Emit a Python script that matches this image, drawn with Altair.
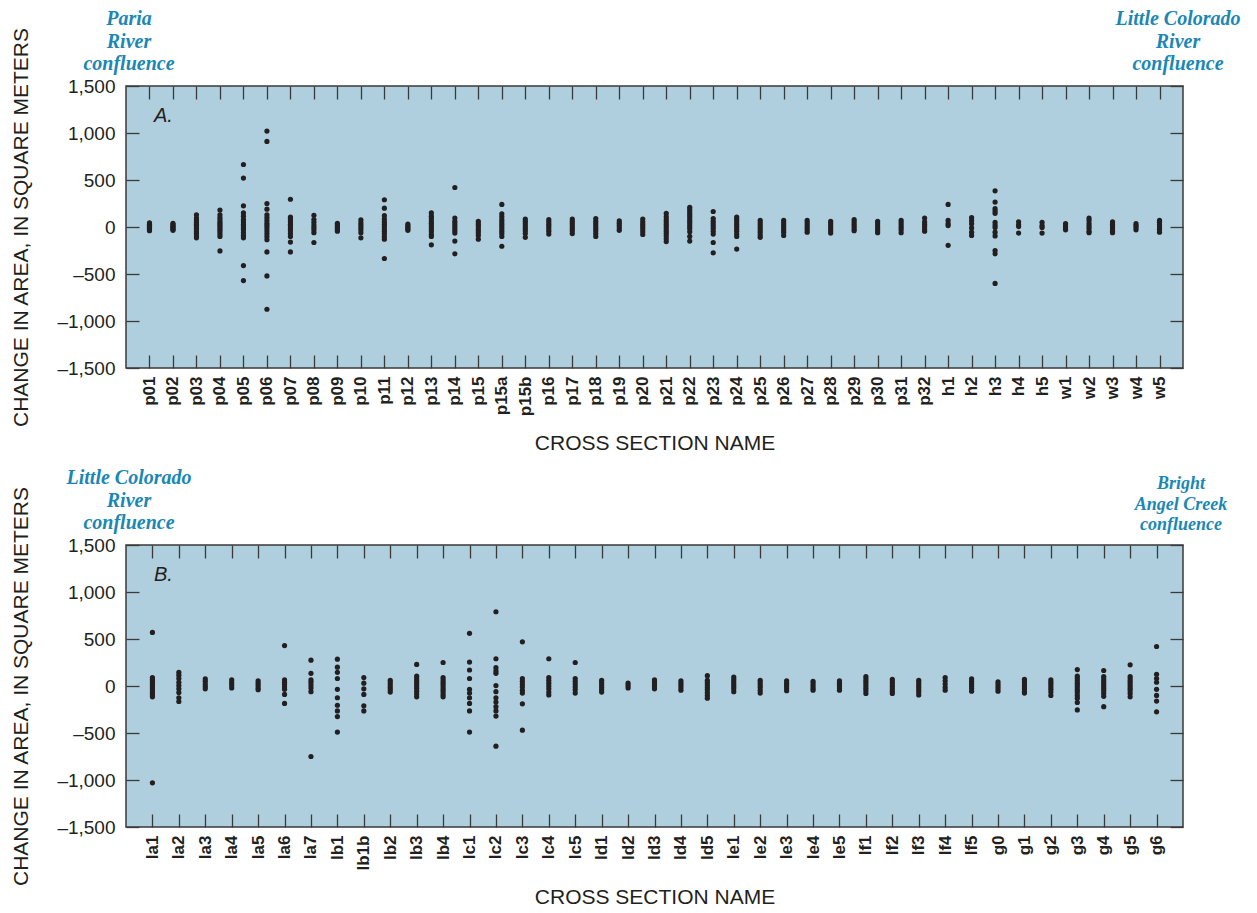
import altair as alt
import pandas as pd

# ---------------- data ----------------
sections_a = ["p01", "p02", "p03", "p04", "p05", "p06", "p07", "p08", "p09", "p10",
              "p11", "p12", "p13", "p14", "p15", "p15a", "p15b", "p16", "p17", "p18",
              "p19", "p20", "p21", "p22", "p23", "p24", "p25", "p26", "p27", "p28",
              "p29", "p30", "p31", "p32", "h1", "h2", "h3", "h4", "h5",
              "w1", "w2", "w3", "w4", "w5"]

values_a = [
    [45, 30, 15, 5, -5, -15, -30, -40],
    [40, 25, 10, 0, -10, -25, -35],
    [130, 95, 70, 50, 30, 15, 0, -15, -30, -50, -70, -95, -115],
    [180, 130, 100, 75, 50, 30, 10, -10, -30, -50, -75, -100, -255],
    [665, 520, 225, 150, 115, 80, 55, 30, 10, -10, -30, -60, -90, -115, -410, -570],
    [1020, 910, 250, 190, 130, 100, 70, 40, 15, -10, -40, -70, -100, -135, -265, -520, -875],
    [295, 105, 80, 55, 30, 10, -15, -40, -70, -100, -160, -265],
    [125, 80, 50, 20, -5, -30, -60, -165],
    [40, 20, 5, -10, -25, -45],
    [75, 45, 20, -5, -30, -60, -115],
    [290, 200, 120, 85, 55, 30, 5, -20, -45, -70, -100, -130, -335],
    [30, 10, -5, -20, -35],
    [150, 115, 90, 65, 40, 20, 0, -25, -50, -80, -100, -190],
    [420, 95, 60, 35, 10, -15, -40, -65, -150, -285],
    [60, 35, 15, -10, -35, -60, -90, -130],
    [240, 140, 110, 80, 55, 30, 5, -20, -45, -70, -100, -205],
    [85, 60, 35, 10, -15, -40, -70, -110],
    [80, 55, 30, 5, -20, -45, -75],
    [85, 60, 35, 10, -15, -40, -70],
    [90, 60, 35, 10, -15, -40, -70, -100],
    [65, 40, 15, -10, -35],
    [85, 55, 30, 5, -20, -50, -80],
    [145, 110, 80, 55, 30, 5, -20, -45, -70, -95, -125, -155],
    [210, 185, 160, 135, 110, 85, 60, 35, 10, -15, -50, -100, -150],
    [165, 90, 60, 35, 10, -15, -45, -75, -165, -275],
    [105, 80, 55, 30, 5, -20, -45, -75, -100, -235],
    [70, 45, 20, -5, -30, -55, -85, -110],
    [70, 45, 20, -5, -30, -55, -90],
    [70, 45, 20, -5, -30, -55],
    [60, 35, 10, -15, -40, -65],
    [80, 55, 30, 5, -20, -40],
    [60, 35, 10, -15, -40, -60],
    [70, 45, 20, -5, -30, -60],
    [95, 55, 30, 5, -20, -45],
    [240, 70, 35, 15, -195],
    [100, 70, 35, -10, -55, -90],
    [385, 265, 195, 170, 145, 50, 20, -5, -55, -95, -250, -285, -600],
    [55, 25, 5, -65],
    [50, 15, -5, -65],
    [35, 10, -10, -30],
    [95, 70, 35, 10, -15, -45, -60],
    [55, 30, 5, -20, -45, -60],
    [35, 15, -5, -30],
    [70, 50, 25, 0, -25, -55],
]

sections_b = ["la1", "la2", "la3", "la4", "la5", "la6", "la7", "lb1", "lb1b", "lb2",
              "lb3", "lb4", "lc1", "lc2", "lc3", "lc4", "lc5", "ld1", "ld2", "ld3",
              "ld4", "ld5", "le1", "le2", "le3", "le4", "le5", "lf1", "lf2", "lf3",
              "lf4", "lf5", "g0", "g1", "g2", "g3", "g4", "g5", "g6"]

values_b = [
    [570, 90, 70, 50, 30, 10, -10, -30, -50, -70, -90, -115, -1030],
    [145, 115, 80, 40, 5, -30, -70, -125, -165],
    [75, 50, 20, -5, -30],
    [65, 35, 10, -20],
    [55, 30, 5, -20, -40],
    [430, 65, 40, 15, -10, -35, -90, -185],
    [275, 135, 65, 40, 10, -20, -60, -750],
    [285, 200, 145, 80, -35, -125, -205, -265, -325, -490],
    [90, 30, -30, -90, -210, -265],
    [60, 35, 10, -15, -40, -65],
    [230, 105, 75, 50, 25, 0, -25, -55, -85, -115],
    [250, 90, 65, 40, 15, -10, -35, -60, -90, -115],
    [560, 255, 170, 80, -35, -75, -125, -185, -265, -490],
    [790, 290, 195, 160, 135, 5, -60, -125, -170, -220, -265, -320, -640],
    [470, 80, 50, 20, -10, -45, -75, -190, -470],
    [290, 90, 60, 30, 0, -30, -65, -95],
    [250, 80, 50, 20, -10, -40, -75],
    [60, 35, 10, -15, -40, -65],
    [30, 5, -20],
    [65, 40, 15, -5, -30],
    [55, 30, 5, -20, -45],
    [110, 60, 35, 10, -15, -40, -70, -100, -130],
    [95, 70, 45, 20, -5, -30, -60],
    [60, 35, 10, -15, -45, -75],
    [55, 30, 5, -20, -50],
    [50, 25, 0, -25, -45],
    [55, 30, 5, -20, -45],
    [100, 75, 50, 25, 0, -25, -50, -80],
    [70, 45, 20, -5, -30, -55, -80],
    [60, 35, 10, -15, -40, -65, -95],
    [90, 55, 20, -15, -45],
    [75, 50, 25, 0, -25, -55],
    [45, 20, -5, -30, -55],
    [70, 45, 20, -5, -30, -60, -75],
    [65, 40, 15, -10, -35, -65, -100],
    [175, 105, 80, 55, 30, 5, -20, -45, -70, -100, -130, -175, -255],
    [165, 100, 75, 50, 25, 0, -25, -50, -80, -110, -220],
    [225, 100, 75, 50, 25, 0, -25, -50, -80, -115],
    [420, 125, 80, 40, -35, -100, -160, -275],
]

y_ticks = [-1500, -1000, -500, 0, 500, 1000, 1500]

label_a = "A."
label_b = "B."
ann_a_left = ["Paria", "River", "confluence"]
ann_a_right = ["Little Colorado", "River", "confluence"]
ann_b_left = ["Little Colorado", "River", "confluence"]
ann_b_right = ["Bright", "Angel Creek", "confluence"]

x_title = "CROSS SECTION NAME"
y_title = "CHANGE IN AREA, IN SQUARE METERS"

# ---------------- style ----------------
W, H = 1057, 282
DOT = "#231f20"
TXT = "#231f20"
ANN = "#1a87b5"
BG = "#b0cfde"
FRAME = "#3a3a3a"
TICK = 13
SANS = "Liberation Sans"
SERIF = "Liberation Serif"

y_label_expr = ("datum.value < 0 ? '\u2013' + format(-datum.value, ',') "
                ": format(datum.value, ',')")


def make_df(sections, values):
    rows = []
    for s, vals in zip(sections, values):
        for v in vals:
            rows.append({"section": s, "value": v})
    return pd.DataFrame(rows)


def annotation(lines, x, y, size, line_height):
    return alt.Chart(alt.Data(values=[{}])).mark_text(
        text=lines, font=SERIF, fontSize=size, fontWeight="bold",
        fontStyle="italic", color=ANN, align="center", baseline="alphabetic",
        lineHeight=line_height,
    ).encode(x=alt.value(x), y=alt.value(y))


def panel(sections, values, label, left_lines, right_lines, right_size,
          right_lh, right_y, right_x):
    df = make_df(sections, values)
    base = alt.Chart(df)
    xs = alt.Scale(type="point", padding=1)
    ys = alt.Scale(domain=[-1500, 1500], nice=False, zero=False)

    points = base.mark_circle(size=27, color=DOT, opacity=1).encode(
        x=alt.X("section:N", sort=sections, scale=xs,
                axis=alt.Axis(title=x_title, labelAngle=-90, ticks=False,
                              domain=False, grid=False, labelPadding=8,
                              labelFontWeight="bold", labelFontSize=17,
                              labelFont=SANS, titleFont=SANS,
                              titleFontSize=21, titleFontWeight="normal",
                              titlePadding=17, labelColor=TXT,
                              titleColor=TXT)),
        y=alt.Y("value:Q", scale=ys,
                axis=alt.Axis(title=y_title, values=y_ticks, ticks=False,
                              domain=False, grid=False, labelPadding=11,
                              labelFontSize=19, labelFont=SANS,
                              labelExpr=y_label_expr, titleFont=SANS,
                              titleFontSize=21, titleFontWeight="normal",
                              titlePadding=25, labelColor=TXT,
                              titleColor=TXT)),
    )

    def tick_axis(orient, values=None):
        kw = dict(orient=orient, offset=-TICK, tickSize=TICK, labels=False,
                  domain=False, grid=False, title=None, tickColor=FRAME,
                  tickWidth=1.3)
        if values is not None:
            kw["values"] = values
        return alt.Axis(**kw)

    ticks_bl = base.mark_circle(opacity=0).encode(
        x=alt.X("section:N", sort=sections, scale=xs, axis=tick_axis("bottom")),
        y=alt.Y("value:Q", scale=ys, axis=tick_axis("left", y_ticks)),
    )
    ticks_tr = base.mark_circle(opacity=0).encode(
        x=alt.X("section:N", sort=sections, scale=xs, axis=tick_axis("top")),
        y=alt.Y("value:Q", scale=ys, axis=tick_axis("right", y_ticks)),
    )

    letter = alt.Chart(alt.Data(values=[{}])).mark_text(
        text=label, font=SANS, fontSize=20, fontStyle="italic", color=TXT,
        align="left", baseline="alphabetic",
    ).encode(x=alt.value(28), y=alt.value(36))

    ann_l = annotation(left_lines, 3, -61, 20, 22.5)
    ann_r = annotation(right_lines, right_x, right_y, right_size, right_lh)

    return alt.layer(points, ticks_bl, ticks_tr, letter, ann_l, ann_r).resolve_axis(
        x="independent", y="independent"
    ).properties(width=W, height=H)


panel_a = panel(sections_a, values_a, label_a, ann_a_left, ann_a_right,
                20, 22.5, -61, 1052)
panel_b = panel(sections_b, values_b, label_b, ann_b_left, ann_b_right,
                18, 20.5, -56, 1055)

chart = alt.vconcat(panel_a, panel_b, spacing=12).properties(
    padding={"left": 2, "top": 0, "right": 0, "bottom": 0}
).configure_view(
    fill=BG, stroke=FRAME, strokeWidth=1.5
).configure_axis(grid=False)

chart.save("out.html", embed_options={"renderer": "svg", "actions": False})
